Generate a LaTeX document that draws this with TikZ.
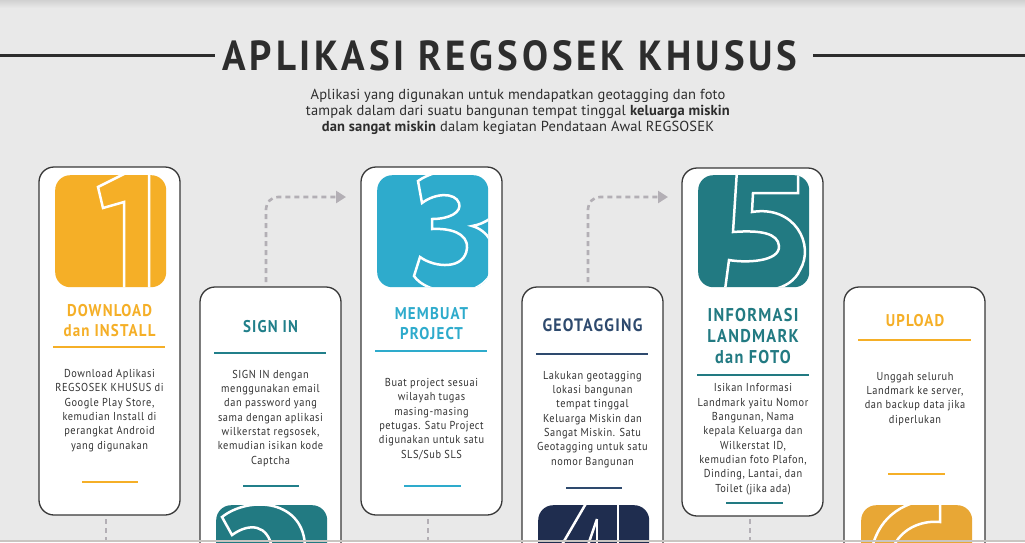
\documentclass[tikz,border=0pt]{standalone}
\usepackage{fontspec}
\usepackage{graphicx}
\usetikzlibrary{arrows.meta}
\setmainfont{PT Sans}
\newfontfamily\bodyfont{PT Sans}[FakeStretch=0.9,LetterSpace=5]
\newfontfamily\headfont{PT Sans}[FakeStretch=0.88,LetterSpace=7]
\newfontfamily\titlefont{PT Sans}[FakeStretch=0.8,LetterSpace=8]
\newfontfamily\subfont{PT Sans}[FakeStretch=1.0,LetterSpace=1]
\definecolor{bg}{HTML}{E9E9E9}
\definecolor{ink}{HTML}{2D2D2D}
\definecolor{cardborder}{HTML}{383838}
\definecolor{bodyc}{HTML}{333333}
\definecolor{yel}{HTML}{F5AF27}
\definecolor{tealh}{HTML}{217F8A}
\definecolor{cyan}{HTML}{2EABCC}
\definecolor{navyh}{HTML}{2E4A6E}
\definecolor{navyi}{HTML}{1F2D4F}
\definecolor{teali}{HTML}{227A82}
\definecolor{orangei}{HTML}{E8A735}
\definecolor{dashc}{HTML}{B3AFB5}
\definecolor{botbar}{HTML}{C9C5C1}
\tikzset{
 cardbox/.style={draw=cardborder, line width=1.3pt, fill=white, rounded corners=15pt, minimum width=141pt, inner sep=0pt, outer sep=0pt, anchor=north west},
 iconbox/.style={rounded corners=15pt, minimum width=111pt, minimum height=112pt, inner sep=0pt, anchor=north west},
 digit/.style={draw=white, line width=2.5pt, line join=miter},
 head/.style={font=\headfont\bfseries\fontsize{17}{19.5}\selectfont, anchor=base, align=center, inner sep=0pt},
 body/.style={font=\bodyfont\fontsize{11.5}{14.3}\selectfont, text=bodyc, align=center, anchor=base, inner sep=0pt},
 longrule/.style={line width=2pt},
 shortrule/.style={line width=1.6pt},
 conn/.style={draw=dashc, line width=2.6pt, dash pattern=on 5pt off 4pt},
}
\begin{document}
\begin{tikzpicture}[x=1pt,y=-1pt]
\useasboundingbox (0,0) rectangle (1025,542);
\clip (0,0) rectangle (1025,542);
\fill[bg] (0,0) rectangle (1025,542);
\shade[top color=black!18, bottom color=bg] (0,0) rectangle (1025,8);

% title
\node[anchor=base, text=ink, inner sep=0pt] (title) at (510,70) {\resizebox{575pt}{30pt}{\titlefont\bfseries APLIKASI REGSOSEK KHUSUS}};
\coordinate (tl) at (0,55.5);
\coordinate (tr) at (1025,55.5);
\draw[ink, line width=3pt] (tl) -- ([xshift=-7pt]title.west |- tl);
\draw[ink, line width=3pt] (tr) -- ([xshift=15pt]title.east |- tr);
\node[anchor=base, align=center, text=ink, inner sep=0pt, font=\subfont\fontsize{14.5}{16}\selectfont] (sub) at (518,131)
 {Aplikasi yang digunakan untuk mendapatkan geotagging dan foto\\
  tampak dalam dari suatu bangunan tempat tinggal \textbf{keluarga miskin}\\
  \textbf{dan sangat miskin} dalam kegiatan Pendataan Awal REGSOSEK};

% connectors
\coordinate (a1) at (346,197);
\coordinate (a2) at (668,197);
\draw[conn, rounded corners=12pt, -{Triangle[length=10pt,width=12pt]}] (266,282) |- (a1);
\draw[conn, rounded corners=12pt, -{Triangle[length=10pt,width=12pt]}] (588,282) |- (a2);

% cards
\node[cardbox, minimum height=348pt] (c1) at (39,167) {};
\node[cardbox, minimum height=300pt] (c2) at (200,287) {};
\node[cardbox, minimum height=348pt] (c3) at (361,167) {};
\node[cardbox, minimum height=300pt] (c4) at (522,287) {};
\node[cardbox, minimum height=348pt] (c5) at (682,168) {};
\node[cardbox, minimum height=300pt] (c6) at (844,287) {};

\coordinate (e1) at (106,545);
\coordinate (e3) at (428,545);
\coordinate (e5) at (750,545);
\draw[conn] (106,519) -- (e1);
\draw[conn] (428,519) -- (e3);
\draw[conn] (750,519) -- (e5);

% icons
\node[iconbox, fill=yel] (i1) at (55,175) {};
\node[iconbox, fill=teali] (i2) at (216,505) {};
\node[iconbox, fill=cyan] (i3) at (377,175) {};
\node[iconbox, fill=navyi] (i4) at (538,505) {};
\node[iconbox, fill=teali] (i5) at (698,175) {};
\node[iconbox, fill=orangei] (i6) at (861,505) {};

\begin{scope}
\clip[rounded corners=15pt] (i1.north west) rectangle (i1.south east);
\draw[digit] (132,170) -- (149,170) -- (149,292) -- (124,292) -- (124,202) -- (103,208) -- (98,187) -- cycle;
\end{scope}
\begin{scope}
\clip[rounded corners=15pt] (i3.north west) rectangle (i3.south east);
\draw[digit] (418,181) .. controls (440,165) and (500,160) .. (500,200)
  .. controls (500,215) and (485,224) .. (472,226)
  .. controls (505,235) and (505,292) .. (455,292)
  .. controls (435,292) and (420,285) .. (414,276) -- (420,257)
  .. controls (435,268) and (465,270) .. (467,248)
  .. controls (468,233) and (450,228) .. (432,229) -- (432,219)
  .. controls (450,219) and (462,212) .. (459,203)
  .. controls (455,192) and (435,193) .. (422,203) -- cycle;
\end{scope}
\begin{scope}
\clip[rounded corners=15pt] (i5.north west) rectangle (i5.south east);
\draw[digit] (737,170) -- (798,170) -- (798,193) -- (753,193) -- (752,212)
  .. controls (795,205) and (815,245) .. (800,270)
  .. controls (790,292) and (760,294) .. (725,290) -- (729,260)
  .. controls (745,263) and (780,262) .. (779,246)
  .. controls (778,233) and (760,230) .. (733,232) -- cycle;
\end{scope}
\begin{scope}
\clip[rounded corners=15pt] (i2.north west) rectangle (i2.south east);
\draw[digit] (272,548) .. controls (268,525) and (250,522) .. (232,535) -- (222,517)
  .. controls (250,495) and (305,500) .. (305,548);
\end{scope}
\begin{scope}
\clip[rounded corners=15pt] (i4.north west) rectangle (i4.south east);
\draw[digit] (588,500) -- (560,548);
\draw[digit] (597,519) -- (587,548);
\draw[digit] (597,519) -- (597,548);
\draw[digit] (618,500) -- (618,548);
\end{scope}
\begin{scope}
\clip[rounded corners=15pt] (i6.north west) rectangle (i6.south east);
\draw[digit] (872,548) .. controls (880,515) and (905,500) .. (940,498) -- (940,522)
  .. controls (920,520) and (900,530) .. (893,548);
\end{scope}

% card 1
\node[head, text=yel] (h1) at (109.5,336) {DOWNLOAD\\dan INSTALL};
\draw[longrule, yel] (53,347) -- (165,347);
\node[body] (b1) at (109.5,449) {Download Aplikasi\\REGSOSEK KHUSUS di\\Google Play Store,\\kemudian Install di\\perangkat Android\\yang digunakan};
\draw[shortrule, yel] (82,482) -- (138,482);

% card 2
\node[head, text=tealh] (h2) at (270.5,332) {SIGN IN};
\draw[longrule, tealh] (214,353) -- (326,353);
\node[body] (b2) at (270.5,464) {SIGN IN dengan\\menggunakan email\\dan password yang\\sama dengan aplikasi\\wilkerstat regsosek,\\kemudian isikan kode\\Captcha};
\draw[shortrule, tealh] (243,486) -- (299,486);

% card 3
\node[head, text=cyan] (h3) at (431.5,339) {MEMBUAT\\PROJECT};
\draw[longrule, cyan] (375,351) -- (487,351);
\node[body] (b3) at (431.5,458) {Buat project sesuai\\wilayah tugas\\masing-masing\\petugas. Satu Project\\digunakan untuk satu\\SLS/Sub SLS};
\draw[shortrule, cyan] (404,486) -- (461,486);

% card 4
\node[head, text=navyh, font=\headfont\bfseries\fontsize{18}{20}\selectfont] (h4) at (592.5,331) {GEOTAGGING};
\draw[longrule, navyh] (536,354) -- (648,354);
\node[body] (b4) at (592.5,465) {Lakukan geotagging\\lokasi bangunan\\tempat tinggal\\Keluarga Miskin dan\\Sangat Miskin. Satu\\Geotagging untuk satu\\nomor Bangunan};
\draw[shortrule, navyh] (566,488) -- (622,488);

% card 5
\node[head, text=teali, font=\headfont\bfseries\fontsize{18.5}{21}\selectfont] (h5) at (753,363) {INFORMASI\\LANDMARK\\dan FOTO};
\draw[longrule, teali] (697,375) -- (809,375);
\node[body] (b5) at (753,492) {Isikan Informasi\\Landmark yaitu Nomor\\Bangunan, Nama\\kepala Keluarga dan\\Wilkerstat ID,\\kemudian foto Plafon,\\Dinding, Lantai, dan\\Toilet (jika ada)};
\draw[shortrule, teali] (726,503) -- (783,503);

% card 6
\node[head, text=yel] (h6) at (915,326) {UPLOAD};
\draw[longrule, yel] (858,340) -- (971,340);
\node[body] (b6) at (915,423) {Unggah seluruh\\Landmark ke server,\\dan backup data jika\\diperlukan};
\draw[shortrule, yel] (888,474) -- (945,474);

\fill[botbar] (0,539.5) rectangle (1025,542);
\end{tikzpicture}
\end{document}
